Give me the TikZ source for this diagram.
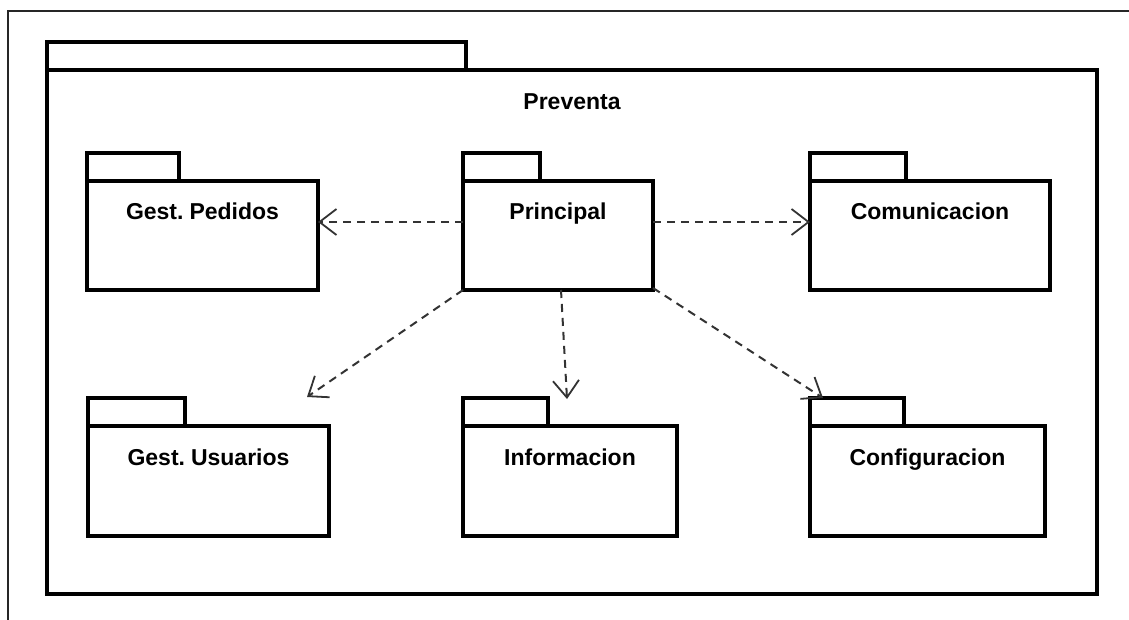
\documentclass[tikz,border=0pt]{standalone}
\usepackage{fontspec}
\setmainfont[WordSpace=0.6]{Liberation Sans}
\usetikzlibrary{arrows.meta}

\tikzset{
  pkgline/.style={draw=black, line width=3.5pt, fill=white, inner sep=0pt, outer sep=0pt},
  pkgbody/.style={pkgline, anchor=north west,
    font=\bfseries\fontsize{23}{23}\selectfont,
    text height=39pt, text depth=70pt},
  pkgtab/.style={pkgline, anchor=south west, minimum height=28pt},
  dep/.style={draw=black!80, line width=2pt, dash pattern=on 8pt off 6pt,
    -{Straight Barb[length=17pt, width=26pt, line width=1.8pt]}},
  frame/.style={draw=black!85, line width=1.8pt}
}

\begin{document}
\begin{tikzpicture}[x=1pt, y=-1pt]
  \useasboundingbox (0,0) rectangle (1129,620);

  % page frame (top and left edges)
  \draw[frame] (1129,11) -- (8,11) -- (8,620);

  % enclosing package
  \node[pkgbody, minimum width=1050pt, text height=40pt, text depth=484pt]
    (prev) at (47,70) {Preventa};
  \node[pkgtab, minimum width=419pt] (prev-tab) at (prev.north west) {};

  % inner packages
  \node[pkgbody, minimum width=231pt] (ped) at (87,181)  {Gest. Pedidos};
  \node[pkgbody, minimum width=190pt] (pri) at (463,181) {Principal};
  \node[pkgbody, minimum width=240pt] (com) at (810,181) {Comunicacion};
  \node[pkgbody, minimum width=241pt, text depth=71pt] (usu) at (88,426)  {Gest. Usuarios};
  \node[pkgbody, minimum width=214pt, text depth=71pt] (inf) at (463,426) {Informacion};
  \node[pkgbody, minimum width=235pt, text depth=71pt] (cfg) at (810,426) {Configuracion};

  \node[pkgtab, minimum width=92pt] (ped-tab) at (ped.north west) {};
  \node[pkgtab, minimum width=77pt] (pri-tab) at (pri.north west) {};
  \node[pkgtab, minimum width=96pt] (com-tab) at (com.north west) {};
  \node[pkgtab, minimum width=97pt] (usu-tab) at (usu.north west) {};
  \node[pkgtab, minimum width=85pt] (inf-tab) at (inf.north west) {};
  \node[pkgtab, minimum width=94pt] (cfg-tab) at (cfg.north west) {};

  % loose ends of the downward dependencies
  \coordinate (usu-end) at (307,397);
  \coordinate (inf-end) at (567,399);

  % dependencies
  \draw[dep] ([yshift=13.5pt]pri.west) -- ([yshift=13.5pt]ped.east);
  \draw[dep] ([yshift=13.5pt]pri.east) -- ([yshift=13.5pt]com.west);
  \draw[dep] (pri.south west) -- (usu-end);
  \draw[dep] ([xshift=3pt]pri.south) -- (inf-end);
  \draw[dep] ([yshift=2pt]pri.south east) -- ([xshift=13pt]cfg-tab.north west);
\end{tikzpicture}
\end{document}
